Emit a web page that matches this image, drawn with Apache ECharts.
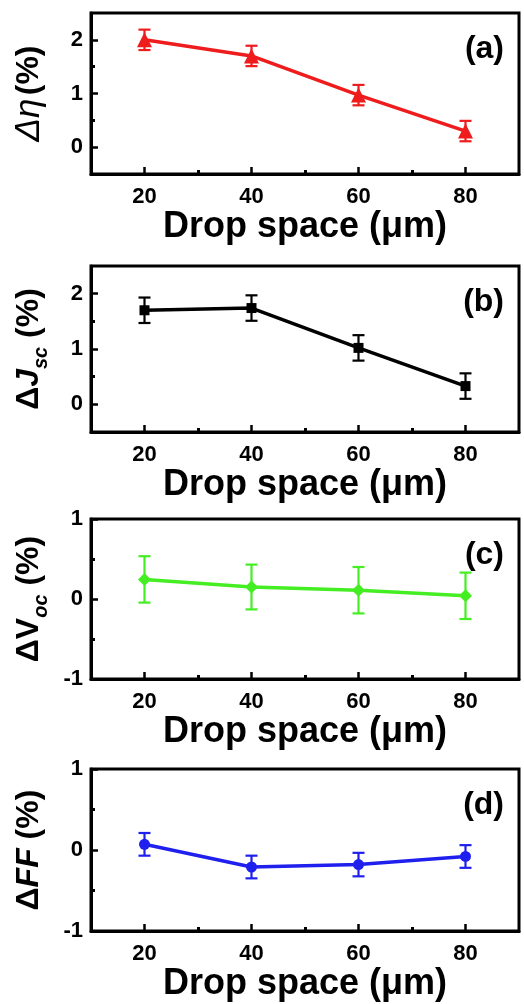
<!DOCTYPE html>
<html>
<head>
<meta charset="utf-8">
<script src="https://cdn.jsdelivr.net/npm/echarts@6/dist/echarts.min.js"></script>
<style>
html,body{margin:0;padding:0;background:#fff;}
#chart{width:524px;height:1004px;}
</style>
</head>
<body>
<div id="chart"></div>
<script>
// ---- data ----
const dropSpace = [20, 40, 60, 80];
const xTickLabels = [20, 40, 60, 80];
const xMinorTicks = [30, 50, 70];

const etaValues = [2.0, 1.7, 0.97, 0.3];
const etaErr = [0.19, 0.19, 0.19, 0.19];
const jscValues = [1.70, 1.74, 1.02, 0.33];
const jscErr = [0.23, 0.23, 0.23, 0.23];
const vocValues = [0.245, 0.15, 0.11, 0.04];
const vocErr = [0.29, 0.28, 0.29, 0.29];
const ffValues = [0.07, -0.21, -0.18, -0.08];
const ffErr = [0.14, 0.14, 0.145, 0.14];

const yTicksAB = [0, 1, 2];
const yMinorAB = [0.5, 1.5];
const yTicksCD = [-1, 0, 1];
const yMinorCD = [-0.5, 0.5];

const panelLabels = ['(a)', '(b)', '(c)', '(d)'];
const xTitle = 'Drop space (\u03bcm)';

// ---- layout ----
const FONT = '"Liberation Sans", Arial, sans-serif';
const grids = [
  {left: 91, top: 13, width: 428, height: 161},
  {left: 91, top: 266, width: 428, height: 166},
  {left: 91, top: 519, width: 428, height: 160},
  {left: 91, top: 769, width: 428, height: 162}
];

const panels = [
  {vals: etaValues, err: etaErr, color: '#ee1c1c', symbol: 'triangle', size: 15,
   yMin: -0.5, yMax: 2.5, yTicks: yTicksAB, yMinor: yMinorAB,
   name: '{d|\u0394\u03b7} {n|(%)}'},
  {vals: jscValues, err: jscErr, color: '#000000', symbol: 'rect', size: 10,
   yMin: -0.5, yMax: 2.5, yTicks: yTicksAB, yMinor: yMinorAB,
   name: '{n|\u0394}{i|J}{s|sc}{n| (%)}'},
  {vals: vocValues, err: vocErr, color: '#44ee22', symbol: 'diamond', size: 13,
   yMin: -1, yMax: 1, yTicks: yTicksCD, yMinor: yMinorCD,
   name: '{n|\u0394V}{s|oc}{n| (%)}'},
  {vals: ffValues, err: ffErr, color: '#2020ee', symbol: 'circle', size: 11,
   yMin: -1, yMax: 1, yTicks: yTicksCD, yMinor: yMinorCD,
   name: '{n|\u0394}{i|FF}{n| (%)}'}
];

const richName = {
  d: {fontFamily: FONT, fontSize: 35, fontStyle: 'italic', fontWeight: 'normal', color: '#000', lineHeight: 36},
  n: {fontFamily: FONT, fontSize: 32, fontWeight: 'bold', color: '#000', lineHeight: 36},
  i: {fontFamily: FONT, fontSize: 32, fontWeight: 'bold', fontStyle: 'italic', color: '#000', lineHeight: 36},
  s: {fontFamily: FONT, fontSize: 20, fontWeight: 'bold', fontStyle: 'italic', color: '#000', lineHeight: 20, verticalAlign: 'bottom', padding: [0, 0, -4, 0]}
};

const xAxes = [], yAxes = [], series = [], titles = [];

panels.forEach((p, k) => {
  // main x axis
  xAxes.push({
    type: 'value', gridIndex: k, min: 10, max: 90, position: 'bottom',
    name: xTitle, nameLocation: 'middle', nameGap: 33,
    nameTextStyle: {fontFamily: FONT, fontSize: 36, fontWeight: 'bold', color: '#000'},
    axisLine: {show: true, onZero: false, lineStyle: {color: '#000', width: 3}},
    axisTick: {show: true, inside: true, length: 7, lineStyle: {color: '#000', width: 2.5}, customValues: xTickLabels},
    axisLabel: {show: true, margin: 12, fontFamily: FONT, fontSize: 22, fontWeight: 'bold', color: '#000', customValues: xTickLabels},
    splitLine: {show: false}
  });
  // minor x ticks
  xAxes.push({
    type: 'value', gridIndex: k, min: 10, max: 90, position: 'bottom',
    axisLine: {show: false, onZero: false},
    axisTick: {show: true, inside: true, length: 4, lineStyle: {color: '#000', width: 3}, customValues: xMinorTicks},
    axisLabel: {show: false},
    splitLine: {show: false}
  });
  // main y axis
  yAxes.push({
    type: 'value', gridIndex: k, min: p.yMin, max: p.yMax, position: 'left',
    name: p.name, nameLocation: 'middle', nameRotate: 90, nameGap: 44,
    nameTextStyle: {rich: richName},
    axisLine: {show: true, onZero: false, lineStyle: {color: '#000', width: 3}},
    axisTick: {show: true, inside: true, length: 7, lineStyle: {color: '#000', width: 2.5}, customValues: p.yTicks},
    axisLabel: {show: true, margin: 8, fontFamily: FONT, fontSize: 22, fontWeight: 'bold', color: '#000', customValues: p.yTicks},
    splitLine: {show: false}
  });
  // minor y ticks
  yAxes.push({
    type: 'value', gridIndex: k, min: p.yMin, max: p.yMax, position: 'left',
    axisLine: {show: false, onZero: false},
    axisTick: {show: true, inside: true, length: 4, lineStyle: {color: '#000', width: 3}, customValues: p.yMinor},
    axisLabel: {show: false},
    splitLine: {show: false}
  });

  const color = p.color;
  // error bars
  series.push({
    type: 'custom', xAxisIndex: 2 * k, yAxisIndex: 2 * k, z: 2,
    data: dropSpace.map((x, i) => [x, p.vals[i], p.err[i]]),
    encode: {x: 0, y: 1},
    renderItem: function (params, api) {
      const x = api.value(0), y = api.value(1), e = api.value(2);
      const top = api.coord([x, y + e]);
      const bot = api.coord([x, y - e]);
      const hw = 6;
      const st = {stroke: color, lineWidth: 2.2};
      return {
        type: 'group',
        children: [
          {type: 'line', shape: {x1: top[0], y1: top[1], x2: bot[0], y2: bot[1]}, style: st},
          {type: 'line', shape: {x1: top[0] - hw, y1: top[1], x2: top[0] + hw, y2: top[1]}, style: st},
          {type: 'line', shape: {x1: bot[0] - hw, y1: bot[1], x2: bot[0] + hw, y2: bot[1]}, style: st}
        ]
      };
    },
    silent: true
  });
  // line with markers
  series.push({
    type: 'line', xAxisIndex: 2 * k, yAxisIndex: 2 * k, z: 3,
    data: dropSpace.map((x, i) => [x, p.vals[i]]),
    symbol: p.symbol, symbolSize: p.size, showSymbol: true,
    lineStyle: {color: color, width: 3.5},
    itemStyle: {color: color, borderWidth: 0},
    animation: false, silent: true
  });

  titles.push({
    text: panelLabels[k], right: 20, top: grids[k].top + 20, padding: 0,
    textStyle: {fontFamily: FONT, fontSize: 32, fontWeight: 'bold', color: '#000'}
  });
});

const chart = echarts.init(document.getElementById('chart'), null, {renderer: 'canvas'});
chart.setOption({
  animation: false,
  backgroundColor: '#ffffff',
  title: titles,
  grid: grids.map(g => Object.assign({show: true, borderColor: '#000', borderWidth: 3, backgroundColor: 'transparent', containLabel: false}, g)),
  xAxis: xAxes,
  yAxis: yAxes,
  series: series
});
</script>
</body>
</html>
